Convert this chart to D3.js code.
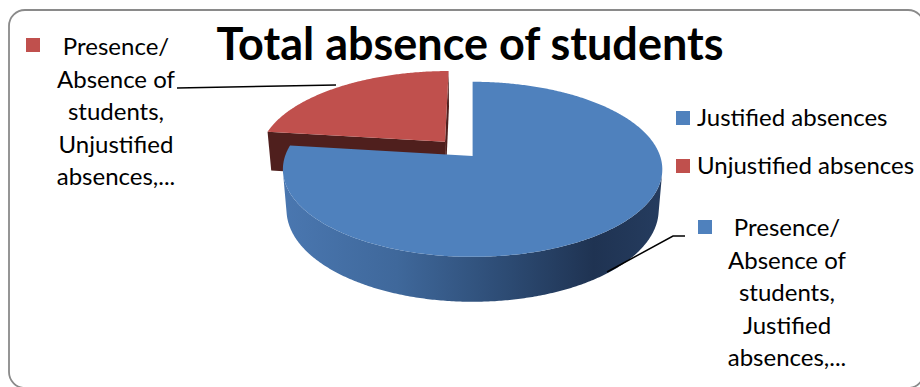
<!DOCTYPE html>
<html><head><meta charset="utf-8">
<script src="https://cdn.jsdelivr.net/npm/d3@7"></script>
<style>html,body{margin:0;padding:0;background:#fff;overflow:hidden;} svg{display:block;}</style>
</head><body>
<script>
// ---- data ----
const categories = ["Justified absences", "Unjustified absences"];
const values = [77, 23];
const seriesName = "Presence/ Absence of students";
const chartTitle = "Total absence of students";
const colors = ["#4F81BD", "#C0504D"];
const explodeBy = [0, 0.228];
const labelLines = [
  ["Presence/", "Absence of", "students,", "Justified", "absences,..."],
  ["Presence/", "Absence of", "students,", "Unjustified", "absences,..."]
];

const W = 920, H = 387;
const svg = d3.select("body").append("svg").attr("width", W).attr("height", H);
const FONT = "Lato, 'Open Sans', sans-serif";

// frame
svg.append("rect").attr("x", 9).attr("y", 10).attr("width", 915).attr("height", 378)
  .attr("rx", 16).attr("fill", "#fff").attr("stroke", "#8a8a8a").attr("stroke-width", 1.8);

// ---- 3D projection ----
const P = {cx: 472.6, cy: 156, S: 187.5, sinA: 0.456, cosA: 0.89, kk: 0.171, h: 0.245};
const Dcam = 1 / P.kk;
const cam = [0, -Dcam * P.cosA, Dcam * P.sinA];
function proj(X, Y, Z) {
  const w = 1 + P.kk * (Y * P.cosA - Z * P.sinA);
  return [P.cx + P.S * X / w, P.cy - P.S * (Y * P.sinA + Z * P.cosA) / w];
}
const line = d3.line();

const pie = d3.pie().sort(null).value(d => d).startAngle(0).endAngle(2 * Math.PI);
const arcs = pie(values).map((a, i) => {
  const mid = (a.startAngle + a.endAngle) / 2;
  const e = explodeBy[i];
  return Object.assign({}, a, {i, ox: e * Math.sin(mid), oy: e * Math.cos(mid)});
});

function rim(a, t, Z) { return proj(a.ox + Math.sin(t), a.oy + Math.cos(t), Z); }
function samples(a0, a1) {
  const n = Math.max(2, Math.ceil((a1 - a0) / 0.01));
  return d3.range(n + 1).map(k => a0 + (a1 - a0) * k / n);
}

// gradients
const defs = svg.append("defs");
const g1 = defs.append("linearGradient").attr("id", "wallBlue").attr("gradientUnits", "userSpaceOnUse")
  .attr("x1", 283).attr("x2", 662).attr("y1", 0).attr("y2", 0);
[[0, "#4a77b0"], [0.3, "#3f689b"], [0.6, "#2c4a72"], [0.82, "#1f3352"], [1, "#253c5f"]]
  .forEach(s => g1.append("stop").attr("offset", s[0]).attr("stop-color", s[1]));
const g2 = defs.append("linearGradient").attr("id", "wallRed").attr("gradientUnits", "userSpaceOnUse")
  .attr("x1", 283).attr("x2", 662).attr("y1", 0).attr("y2", 0);
[[0, "#8e3330"], [1, "#4a1c1a"]].forEach(s => g2.append("stop").attr("offset", s[0]).attr("stop-color", s[1]));

const wallFill = ["url(#wallBlue)", "url(#wallRed)"];

// draw back slices first
const order = arcs.slice().sort((a, b) => b.oy - a.oy);
const gp = svg.append("g");
order.forEach(a => {
  const g = gp.append("g");
  const apexT = proj(a.ox, a.oy, 0), apexB = proj(a.ox, a.oy, -P.h);
  [[a.startAngle, -1], [a.endAngle, 1]].forEach(([t, s]) => {
    const n = [s * Math.cos(t), -s * Math.sin(t), 0];
    const v = [cam[0] - a.ox, cam[1] - a.oy, cam[2]];
    if (n[0] * v[0] + n[1] * v[1] > 1e-6) {
      g.append("path").attr("d", line([apexT, rim(a, t, 0), rim(a, t, -P.h), apexB]) + "Z")
        .attr("fill", a.i === 0 ? "#2b4870" : "#4f1f1d");
    }
  });
  const vis = samples(a.startAngle, a.endAngle).filter(t =>
    -1 - a.ox * Math.sin(t) - (Dcam * P.cosA + a.oy) * Math.cos(t) > 0);
  if (vis.length > 1) {
    const pts = vis.map(t => rim(a, t, 0)).concat(vis.slice().reverse().map(t => rim(a, t, -P.h)));
    g.append("path").attr("d", line(pts) + "Z").attr("fill", wallFill[a.i]);
  }
  const top = [apexT].concat(samples(a.startAngle, a.endAngle).map(t => rim(a, t, 0)));
  g.append("path").attr("d", line(top) + "Z").attr("fill", colors[a.i]);
});

// ---- title ----
svg.append("text").attr("x", 470).attr("y", 60).attr("text-anchor", "middle")
  .attr("font-family", FONT).attr("font-weight", "bold").attr("font-size", 45)
  .attr("fill", "#000").text(chartTitle);

// ---- leader lines ----
const leaders = [
  [[607, 272], [673, 236], [685, 236]],
  [[336, 85], [177, 88]]
];
leaders.forEach(l => svg.append("path").attr("d", line(l)).attr("fill", "none")
  .attr("stroke", "#000").attr("stroke-width", 1.5));

// ---- data labels ----
const labelPos = [
  {mx: 698, my: 220, tx: 787, ty: 236},
  {mx: 26, my: 38, tx: 116, ty: 55}
];
labelPos.forEach((p, i) => {
  svg.append("rect").attr("x", p.mx).attr("y", p.my).attr("width", 14).attr("height", 14).attr("fill", colors[i]);
  const t = svg.append("text").attr("font-family", FONT).attr("font-size", 24).attr("fill", "#000")
    .attr("text-anchor", "middle");
  labelLines[i].forEach((s, k) => t.append("tspan").attr("x", p.tx).attr("y", p.ty + k * 32.6).text(s));
});

// ---- legend ----
const legY = [111, 159];
categories.forEach((c, i) => {
  svg.append("rect").attr("x", 676).attr("y", legY[i]).attr("width", 14).attr("height", 14).attr("fill", colors[i]);
  svg.append("text").attr("x", 697).attr("y", legY[i] + 15).attr("font-family", FONT).attr("font-size", 24)
    .attr("fill", "#000").text(c);
});
</script>
</body></html>
